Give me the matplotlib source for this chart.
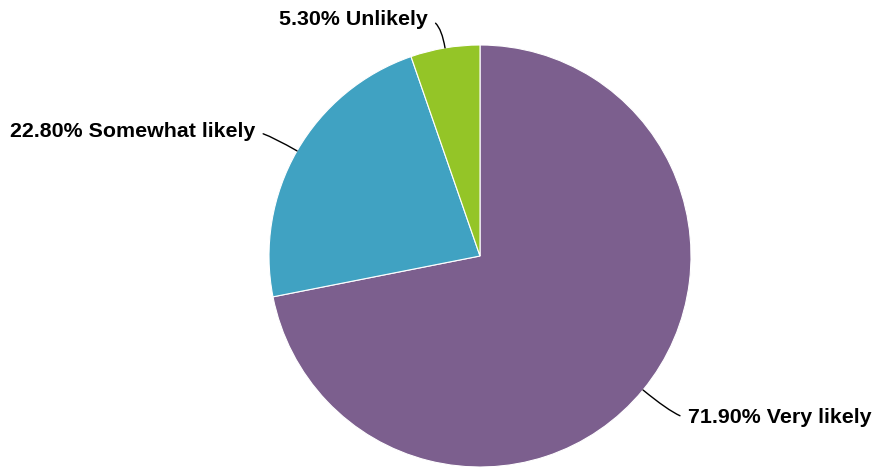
import numpy as np
import matplotlib
matplotlib.use("Agg")
import matplotlib.pyplot as plt

# =====================================================
#  data
# =====================================================
labels = ["Very likely", "Somewhat likely", "Unlikely"]
values = [71.90, 22.80, 5.30]
colors = ["#7c5f8e", "#40a2c2", "#94c527"]

plt.rcParams["font.family"] = ["Liberation Sans", "DejaVu Sans"]

fig = plt.figure(figsize=(8.78, 4.68), dpi=100)
ax = fig.add_axes([0, 0, 1, 1])

cx, cy, r = 480, 468 - 256, 211
wedges, _ = ax.pie(values, colors=colors, startangle=90, counterclock=False,
                   radius=r, center=(cx, cy),
                   wedgeprops=dict(edgecolor="white", linewidth=0.8))

ax.set_xlim(0, 878)
ax.set_ylim(0, 468)
ax.set_aspect("equal")
ax.axis("off")

# label offsets (text anchor relative to wedge edge point)
offsets = [(45, -28), (-42, 19), (-17, 28)]
for w, lab, val, (dx, dy) in zip(wedges, labels, values, offsets):
    ang = np.deg2rad((w.theta1 + w.theta2) / 2)
    ex, ey = cx + r*np.cos(ang), cy + r*np.sin(ang)
    ha = "left" if dx > 0 else "right"
    rel = (0, 0.5) if dx > 0 else (1, 0.5)
    ax.annotate(f"{val:.2f}% {lab}", xy=(ex, ey), xytext=(ex+dx, ey+dy),
                ha=ha, va="center", fontsize=15.4, fontweight="bold",
                arrowprops=dict(arrowstyle="-", lw=1, color="black",
                                shrinkA=4, shrinkB=0, relpos=rel,
                                connectionstyle=f"angle3,angleA=0,angleB={np.rad2deg(ang):.1f}"))

fig.savefig("out.png", dpi=100)
